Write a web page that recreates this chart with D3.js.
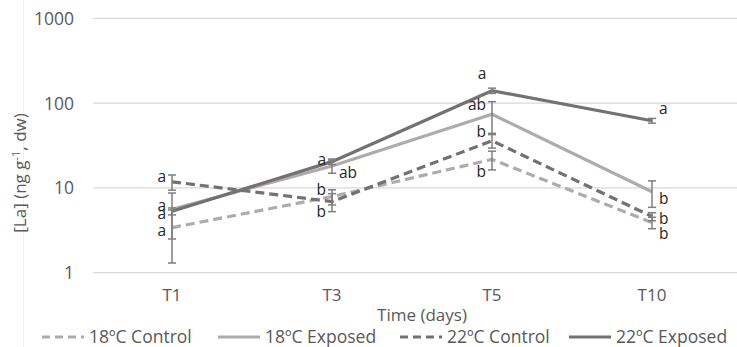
<!DOCTYPE html>
<html>
<head>
<meta charset="utf-8">
<script src="https://cdn.jsdelivr.net/npm/d3@7"></script>
<style>
  body { margin: 0; background: #fff; }
  text { font-family: "Open Sans", "Liberation Sans", sans-serif; }
</style>
</head>
<body>
<div id="chart"></div>
<script>
// data
var categories = ['T1', 'T3', 'T5', 'T10'];
var yTicks = [1, 10, 100, 1000];

var c18 = [3.4, 7.9, 21.7, 3.9];
var c18Err = [2.1, 1.6, 5.4, 0.6];
var e18 = [5.6, 18.1, 74, 9.0];
var e18Err = [3.1, 3.2, 30, 3.1];
var c22 = [11.8, 6.9, 36, 4.6];
var c22Err = [2.4, 1.65, 6.5, 0.5];
var e22 = [5.3, 20.4, 140, 62];
var e22Err = [0.5, 1.5, 10, 4];

var c18Letters = ['a', 'b', 'b', 'b'];
var e18Letters = ['a', 'ab', 'ab', 'b'];
var c22Letters = ['a', 'b', 'b', 'b'];
var e22Letters = ['a', 'a', 'a', 'a'];

var seriesNames = ['18ºC Control', '18ºC Exposed', '22ºC Control', '22ºC Exposed'];

var W = 737, H = 347;
var light = '#afabab', dark = '#767171';

var series = [
  {name: seriesNames[0], vals: c18, err: c18Err, letters: c18Letters, color: light, dash: '9,5'},
  {name: seriesNames[1], vals: e18, err: e18Err, letters: e18Letters, color: light, dash: null},
  {name: seriesNames[2], vals: c22, err: c22Err, letters: c22Letters, color: dark, dash: '9,5'},
  {name: seriesNames[3], vals: e22, err: e22Err, letters: e22Letters, color: dark, dash: null}
];

// where each significance letter sits relative to its point (one row per series)
var letterPos = [
  [['l', 3], ['l', -7], ['l', 13], ['r', 11]],
  [['l', -3], ['r', 7], ['l', -9], ['r', 7]],
  [['l', -5], ['l', 10], ['l', -9], ['r', 3]],
  [['l', 3], ['l', -2], ['c', -17], ['r', -12]]
];

var svg = d3.select('#chart').append('svg')
  .attr('width', W)
  .attr('height', H);

svg.append('rect').attr('width', W).attr('height', H).style('fill', '#fff');

// faint frame edge on the left
svg.append('line')
  .attr('x1', 23.5).attr('x2', 23.5).attr('y1', 0).attr('y2', H)
  .style('stroke', '#f0f0f0').style('stroke-width', 1);

var x = d3.scaleBand().domain(categories).range([92, 732]);
var y = d3.scaleLog().domain([1, 1000]).range([272.7, 18.3]);

function cx(i) { return x(categories[i]) + x.bandwidth() / 2; }

// gridlines
svg.append('g').selectAll('line').data(yTicks).enter().append('line')
  .attr('x1', 93).attr('x2', W)
  .attr('y1', function(d){ return y(d); })
  .attr('y2', function(d){ return y(d); })
  .style('stroke', '#d9d9d9').style('stroke-width', 1.3);

// y axis labels
var yAxis = d3.axisLeft(y).tickValues(yTicks).tickFormat(d3.format('d')).tickSize(0).tickPadding(0);
var yg = svg.append('g').attr('transform', 'translate(74,0)').call(yAxis);
yg.select('.domain').remove();
yg.selectAll('text').style('font-size', '17.5px').style('fill', '#595959').attr('dy', '0.34em');

// x axis labels
var xAxis = d3.axisBottom(x).tickSize(0).tickPadding(0);
var xg = svg.append('g').attr('transform', 'translate(0,289)').call(xAxis);
xg.select('.domain').remove();
xg.selectAll('text').style('font-size', '17px').style('fill', '#595959');

// axis titles
svg.append('text')
  .attr('x', 422).attr('y', 321)
  .attr('text-anchor', 'middle')
  .style('font-size', '17px').style('fill', '#595959')
  .text('Time (days)');

var yt = svg.append('text')
  .attr('transform', 'translate(26,173) rotate(-90)')
  .attr('text-anchor', 'middle')
  .style('font-size', '17px').style('fill', '#595959');
yt.append('tspan').text('[La] (ng g');
yt.append('tspan').attr('dy', -6).style('font-size', '11px').text('-1');
yt.append('tspan').attr('dy', 6).text(', dw)');

var line = d3.line()
  .x(function(d, i){ return cx(i); })
  .y(function(d){ return y(d); });

// lines
series.forEach(function(s){
  svg.append('path')
    .datum(s.vals)
    .attr('d', line)
    .style('fill', 'none')
    .style('stroke', s.color)
    .style('stroke-width', 3.2)
    .style('stroke-dasharray', s.dash);
});

// error bars
var eg = svg.append('g').style('stroke', '#7f7f7f').style('stroke-width', 1.5);
series.forEach(function(s){
  s.vals.forEach(function(v, i){
    var hi = y(v + s.err[i]), lo = y(Math.max(v - s.err[i], 0.01)), xc = cx(i);
    eg.append('line').attr('x1', xc).attr('x2', xc).attr('y1', hi).attr('y2', lo);
    eg.append('line').attr('x1', xc - 4).attr('x2', xc + 4).attr('y1', hi).attr('y2', hi);
    eg.append('line').attr('x1', xc - 4).attr('x2', xc + 4).attr('y1', lo).attr('y2', lo);
  });
});

// significance letters
series.forEach(function(s, si){
  s.letters.forEach(function(l, i){
    var p = letterPos[si][i];
    var xc = cx(i);
    var t = svg.append('text')
      .attr('y', y(s.vals[i]) + p[1])
      .attr('dy', '0.32em')
      .style('font-size', '15.5px').style('fill', '#262626')
      .text(l);
    if (p[0] === 'l') t.attr('x', xc - 6).attr('text-anchor', 'end');
    else if (p[0] === 'r') t.attr('x', xc + 7).attr('text-anchor', 'start');
    else t.attr('x', xc - 10).attr('text-anchor', 'middle');
  });
});

// legend
var legX = [42, 218, 400, 569];
var lg = svg.append('g').attr('transform', 'translate(0,337)');
series.forEach(function(s, i){
  lg.append('line')
    .attr('x1', legX[i]).attr('x2', legX[i] + 42)
    .attr('y1', 0).attr('y2', 0)
    .style('stroke', s.color).style('stroke-width', 3.2)
    .style('stroke-dasharray', s.dash ? '8,5' : null);
  lg.append('text')
    .attr('x', legX[i] + 47).attr('y', 0).attr('dy', '0.34em')
    .style('font-size', '17.5px').style('fill', '#595959')
    .text(s.name);
});
</script>
</body>
</html>
